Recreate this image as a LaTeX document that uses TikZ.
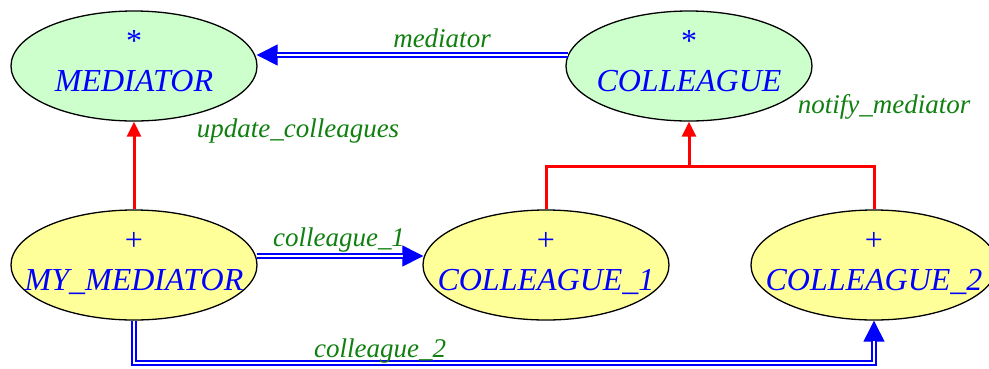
\documentclass[tikz,border=0pt]{standalone}
\usepackage{fontspec}
\setmainfont{Liberation Serif}
\usetikzlibrary{arrows.meta,shapes.geometric,calc}
\definecolor{clsgreen}{RGB}{204,255,204}
\definecolor{clsyellow}{RGB}{255,255,153}
\definecolor{lblgreen}{RGB}{16,128,16}
\tikzset{
  cls/.style={ellipse, draw=black, line width=1.3pt, minimum width=246pt, minimum height=110pt, inner sep=0pt},
  deferred/.style={cls, fill=clsgreen},
  effective/.style={cls, fill=clsyellow},
  nametxt/.style={anchor=base, inner sep=0pt, text=blue, font=\fontsize{32}{38}\selectfont\itshape},
  marktxt/.style={anchor=base, inner sep=0pt, text=blue, font=\fontsize{32}{38}\selectfont},
  lbl/.style={anchor=base, inner sep=0pt, text=lblgreen, font=\fontsize{27}{32}\selectfont\itshape},
  inherit/.style={draw=red, line width=3pt},
  inherittip/.style={inherit, -{Triangle[length=15pt,width=14pt]}},
  client/.style={draw=blue, line width=2.3pt, double=white, double distance=2pt},
  clienttip/.style={draw=blue, line width=1pt, -{Triangle[length=21pt,width=21pt]}},
}
\begin{document}
\begin{tikzpicture}[x=1pt,y=-1pt]
\useasboundingbox (0,0) rectangle (989,368);
\clip (0,0) rectangle (989,368);
% classes
\node[deferred] (med) at (134,66) {};
\node[deferred] (col) at (689,66) {};
\node[effective] (mymed) at (134,265) {};
\node[effective] (col1) at (546,265) {};
\node[effective] (col2) at (874,265) {};
% class texts
\node[marktxt] (medm) at ([yshift=15pt]med.center) {*};
\node[nametxt] (medn) at ([yshift=-25pt]med.center) {MEDIATOR};
\node[marktxt] (colm) at ([yshift=15pt]col.center) {*};
\node[nametxt] (coln) at ([yshift=-25pt]col.center) {COLLEAGUE};
\node[marktxt] (mymedm) at ([yshift=15pt]mymed.center) {+};
\node[nametxt] (mymedn) at ([yshift=-25pt]mymed.center) {MY\_MEDIATOR};
\node[marktxt] (col1m) at ([yshift=15pt]col1.center) {+};
\node[nametxt] (col1n) at ([yshift=-25pt]col1.center) {COLLEAGUE\_1};
\node[marktxt] (col2m) at ([yshift=15pt]col2.center) {+};
\node[nametxt] (col2n) at ([yshift=-25pt]col2.center) {COLLEAGUE\_2};
% inheritance
\coordinate (join) at (col |- 0,166);
\draw[inherittip] (mymed.north) -- (med.south);
\draw[inherit] (col1.north) |- (join) -| (col2.north);
\draw[inherittip] (join) -- (col.south);
% client links
\coordinate (medA) at ($(med.east |- 0,55)+(-1,0)$);
\coordinate (colA) at ($(col.west |- 0,55)+(2.5,0)$);
\draw[clienttip] (colA) -- (medA);
\draw[client, shorten >=20pt] (colA) -- (medA);
\coordinate (mymedB) at ($(mymed.east |- 0,256)+(-1,0)$);
\coordinate (col1B) at ($(col1.west |- 0,256)+(1,0)$);
\draw[clienttip] (mymedB) -- (col1B);
\draw[client, shorten >=20pt] (mymedB) -- (col1B);
\coordinate (low) at (mymed |- 0,363);
\draw[clienttip] (low -| col2.south) -- (col2.south);
\draw[client] (mymed.south) -- (low) -- ($(low -| col2.south)$) -- ($(col2.south)+(0,20)$);
% labels
\node[lbl] (lmed) at (442,47) {mediator};
\node[lbl] (lupd) at (298,137) {update\_colleagues};
\node[lbl] (lnot) at (884,113) {notify\_mediator};
\node[lbl] (lc1) at (339,246) {colleague\_1};
\node[lbl] (lc2) at (380,357) {colleague\_2};
\end{tikzpicture}
\end{document}
